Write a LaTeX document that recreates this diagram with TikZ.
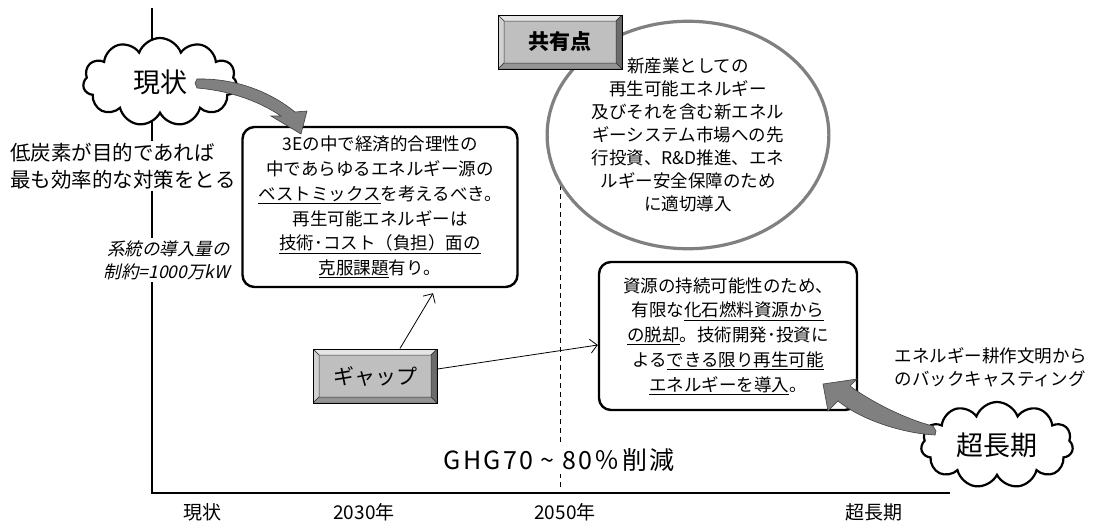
\documentclass[tikz,border=0pt]{standalone}
\usepackage{fontspec}
\newfontfamily\jp{Noto Sans CJK JP}
\newfontfamily\jpslant[FakeSlant=0.22]{Noto Sans CJK JP}
\newfontfamily\jpwide[LetterSpace=9]{Noto Sans CJK JP}
\usetikzlibrary{shapes.symbols,shapes.geometric,arrows.meta}
\tikzset{
>={Straight Barb[length=7pt,width=14pt]},
  kumo/.style={
    cloud, cloud puffs=11, cloud puff arc=140,
    cloud ignores aspect,
    draw, line width=2.2pt, fill=white,
    minimum width=154pt, minimum height=88pt,
    font=\jp\fontsize{27}{30}\selectfont},
  setsumei/.style={
    rectangle, rounded corners=12pt,
    draw, line width=2.4pt, fill=white,
    align=center,
    font=\jp\fontsize{17.5}{24.7}\selectfont},
  botan/.style={
    rectangle, draw, line width=1pt,
    fill=black!25,
    minimum width=124pt, minimum height=54pt,
    font=\jp\fontsize{21}{24}\selectfont,
    path picture={
      \filldraw[fill=black!10, draw=black!80, line width=.5pt]
        (path picture bounding box.north west) -- (path picture bounding box.north east)
        -- ([shift={(-6pt,-6pt)}]path picture bounding box.north east)
        -- ([shift={(6pt,-6pt)}]path picture bounding box.north west) -- cycle;
      \filldraw[fill=black!18, draw=black!80, line width=.5pt]
        (path picture bounding box.north west) -- ([shift={(6pt,-6pt)}]path picture bounding box.north west)
        -- ([shift={(6pt,6pt)}]path picture bounding box.south west)
        -- (path picture bounding box.south west) -- cycle;
      \filldraw[fill=black!58, draw=black!80, line width=.5pt]
        (path picture bounding box.north east) -- ([shift={(-6pt,-6pt)}]path picture bounding box.north east)
        -- ([shift={(-6pt,6pt)}]path picture bounding box.south east)
        -- (path picture bounding box.south east) -- cycle;
      \filldraw[fill=black!42, draw=black!80, line width=.5pt]
        (path picture bounding box.south west) -- ([shift={(6pt,6pt)}]path picture bounding box.south west)
        -- ([shift={(-6pt,6pt)}]path picture bounding box.south east)
        -- (path picture bounding box.south east) -- cycle;
    }},
  yajirushi/.style={fill=black!50, draw=black!75, line width=.6pt},
  memo/.style={fill=white, inner sep=2pt},
  jiku/.style={font=\jp\fontsize{19}{22}\selectfont},
}

\begin{document}
\begin{tikzpicture}[x=1pt,y=-1pt]
		\useasboundingbox (0,0) rectangle (1120,523);

		% axes and the 2050 line
		\draw[line width=1.2pt] (152,8) |- (950,493);
		\draw[dashed, dash pattern=on 5pt off 4pt, line width=.8pt] (560,185) -- (560,490);

		% left notes
		\node[memo, anchor=west, align=left, font=\jp\fontsize{20.5}{27}\selectfont] (teitanso) at (8,166)
			{低炭素が目的であれば\\最も効率的な対策をとる};
		\node[memo, anchor=east, align=right, font=\jpslant\fontsize{17.5}{23}\selectfont] (seiyaku) at (232,260)
			{系統の導入量の\\制約=1000万kW};

		% axis labels
		\node[jiku] (lgenjo) at (202,512) {現状};
		\node[jiku] (l2030) at (364,512) {2030年};
		\node[jiku] (l2050) at (565,512) {2050年};
		\node[jiku] (lchoki) at (874,512) {超長期};

		\node[memo, font=\jpwide\fontsize{25}{28}\selectfont] (ghg) at (559,460)
			{GHG70 \textasciitilde{} 80％削減};

		% clouds
		\node[kumo] (genjo) at (160,82) {現状};
		\node[kumo, minimum width=152pt, minimum height=86pt] (choki) at (997,445) {超長期};

		% boxes
		\node[setsumei, minimum width=275pt, minimum height=160pt] (mix) at (380,207)
			{3Eの中で経済的合理性の\\中であらゆるエネルギー源の\\
			 \underline{ベストミックス}を考えるべき。\\再生可能エネルギーは\\
			 \underline{技術･コスト（負担）面の}\\\underline{克服課題}有り。};
		\node[setsumei, minimum width=258pt, minimum height=148pt] (datsu) at (728,336)
			{資源の持続可能性のため、\\有限な\underline{化石燃料資源から}\\
			 \underline{の脱却}。技術開発･投資に\\よる\underline{できる限り再生可能}\\
			 \underline{エネルギーを導入}。};

		\node[ellipse, draw=black!50, line width=3.2pt, fill=white, align=center,
			minimum width=276pt, minimum height=192pt,
			font=\jp\fontsize{17.5}{23}\selectfont] (shinsangyo) at (688,135)
			{新産業としての\\再生可能エネルギー\\及びそれを含む新エネル\\ギーシステム市場への先\\
			 行投資、R\&D推進、エネ\\ルギー安全保障のため\\に適切導入};

		\node[botan, font=\jp\bfseries\fontsize{21}{24}\selectfont] (kyoyu) at (560,42) {共有点};
		\node[botan] (gap) at (375,376) {ギャップ};

		\node[anchor=west, align=left, font=\jp\fontsize{17.5}{23}\selectfont] (backcast) at (891,367)
			{エネルギー耕作文明から\\のバックキャスティング};

		% gap arrows
		\draw[->, line width=.8pt] ([xshift=25pt]gap.north) -- ([xshift=53pt,yshift=-5pt]mix.south);
		\draw[->, line width=.8pt] ([yshift=7pt]gap.east) -- ([yshift=-9pt]datsu.west);

		% gray block arrows
		\filldraw[yajirushi] (195,83) -- (197,79) .. controls (237,78) and (272,93) .. (295,112)
			-- (307,111) -- (301,134) -- (271,116) -- (281,116)
			.. controls (260,102) and (232,91) .. (197,88) -- cycle;
		\filldraw[yajirushi] (936,431) -- (933,426) .. controls (905,419) and (870,401) .. (850,386)
			-- (857,379) -- (823,384) -- (828,411) -- (838,401)
			.. controls (860,419) and (900,433) .. (935,435) -- cycle;

	\end{tikzpicture}
\end{document}
